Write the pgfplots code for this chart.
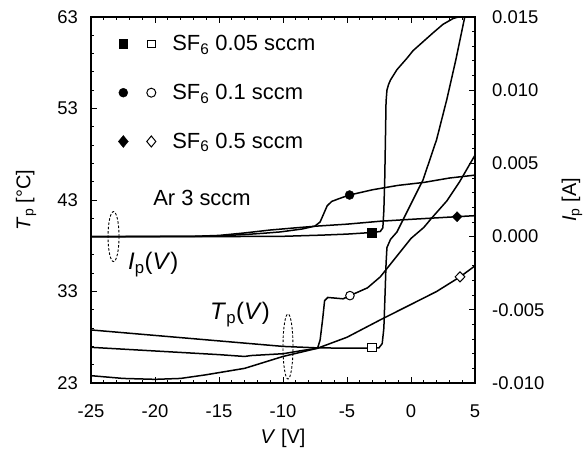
\documentclass[border=0pt]{standalone}
\usepackage{fontspec}
\setmainfont{Liberation Sans}
\usepackage{pgfplots}
\pgfplotsset{compat=1.18}

\pgfplotsset{
  common/.style={
    scale only axis, width=384bp, height=366bp,
    xmin=-25, xmax=5,
    tick align=inside,
    major tick length=6bp, minor tick length=3.5bp,
    every tick/.style={black, line width=0.9bp},
    axis line style={line width=1.1bp},
    /pgf/number format/assume math mode=true,
    tick label style={font=\fontsize{18.5}{22}\selectfont, inner sep=0pt},
  },
  curve/.style={black, line width=1.5bp, mark=none},
}

\begin{document}
\begin{tikzpicture}
% T_p, left axis
\begin{axis}[common,
  ymin=23, ymax=63,
  xtick={-25,-20,...,5}, minor x tick num=4,
  ytick={23,33,...,63}, minor y tick num=4,
  ytick pos=left, xtick pos=both,
  xticklabel style={anchor=north, yshift=-21.5bp},
  yticklabel style={anchor=east, xshift=-13bp},
  every axis x label/.style={at={(axis description cs:0.5,-0.150)}, anchor=center,
    font=\fontsize{20}{24}\selectfont},
  every axis y label/.style={at={(axis description cs:-0.169,0.5)}, anchor=center, rotate=90,
    font=\fontsize{20}{24}\selectfont},
  xlabel={\textit{V} [V]},
  ylabel={\textit{T}\textsubscript{p} [°C]},
]
% SF6 0.05 sccm
\addplot[curve] coordinates {
(-25,28.8) (-20,28.2) (-15,27.6) (-10,27.0) (-7.5,26.85) (-5,26.8) (-3.05,26.8)
(-2.5,26.85) (-2.25,27.3) (-2.12,29.0) (-2.02,33.0) (-1.95,36.0) (-1.88,37.8)
(-1.6,38.7) (-1.1,39.5) (-0.1,42.3) (0.94,45.2) (2.0,49.6) (2.8,54.0) (3.5,58.3) (4.2,63.0)
};
% SF6 0.1 sccm
\addplot[curve] coordinates {
(-25,26.9) (-20,26.5) (-15,26.1) (-13,25.9) (-12.5,26.0) (-10,26.2) (-8.5,26.55)
(-7.3,26.8) (-7.1,27.7) (-6.9,30.0) (-6.75,32.0) (-6.5,32.35) (-5.3,32.2) (-4.77,32.55)
(-3.4,33.4) (-2.4,34.6) (-1.2,36.7) (0,38.8) (1,40.0) (1.6,41.0) (2.8,42.9) (3.8,45.0) (5,47.9)
};
% SF6 0.5 sccm
\addplot[curve] coordinates {
(-25,23.8) (-22.5,23.5) (-20,23.4) (-18,23.5) (-16,23.9) (-13,24.6) (-10,25.9)
(-8.5,26.4) (-7.3,26.8) (-5,28.0) (-2.4,29.9) (0.16,31.7) (2.0,33.0) (3.83,34.6) (5,35.8)
};
\addplot[only marks, mark=square*, mark size=4.2bp, draw=black, fill=white, line width=1bp] coordinates {(-3.05,26.86)};
\addplot[only marks, mark=*, mark size=4.3bp, draw=black, fill=white, line width=1bp] coordinates {(-4.77,32.55)};
\addplot[only marks, mark=diamond*, mark size=5bp, mark options={xscale=1.3}, draw=black, fill=white, line width=1bp] coordinates {(3.83,34.6)};

\draw[dashed, dash pattern=on 2.5bp off 1.8bp, line width=0.9bp]
  (axis cs:-9.61,26.99) ellipse [x radius=5bp, y radius=32.5bp];
\node[anchor=center, font=\fontsize{22}{26}\selectfont, inner sep=0pt] at (axis cs:-16.33,43.27) {Ar 3 sccm};
\node[anchor=base west, font=\fontsize{24}{28}\selectfont, inner sep=0pt] at (axis cs:-22.11,35.35)
  {\textit{I}\textsubscript{p}(\textit{V})};
\node[anchor=base west, font=\fontsize{24}{28}\selectfont, inner sep=0pt] at (axis cs:-15.70,29.89)
  {\textit{T}\textsubscript{p}(\textit{V})};
\end{axis}

% I_p, right axis
\begin{axis}[common,
  ymin=-0.01, ymax=0.015,
  axis y line*=right, axis x line=none,
  ytick={-0.01,-0.005,0,0.005,0.01,0.015}, minor y tick num=4,
  scaled y ticks=false,
  yticklabel style={anchor=west, xshift=17bp,
    /pgf/number format/.cd, fixed, fixed zerofill, precision=3},
  every axis y label/.style={at={(axis description cs:1.2526,0.5)}, anchor=center, rotate=90,
    font=\fontsize{20}{24}\selectfont},
  ylabel={\textit{I}\textsubscript{p} [A]},
  legend style={at={(rel axis cs:0.068,0.950)}, anchor=north west, draw=none, fill=none,
    font=\fontsize{22}{26}\selectfont, row sep=32bp, inner sep=0pt,
    nodes={inner sep=0pt}},
  legend cell align=left,
]
\addlegendimage{legend image code/.code={
  \path[draw=none, fill=none] (-6bp,-6bp) rectangle (49bp,6bp);
  \draw[black, fill=black] plot[only marks, mark=square*, mark size=4.2bp] coordinates {(0bp,0bp)};
  \draw[black, fill=white, line width=1bp] plot[only marks, mark=square*, mark size=3.8bp] coordinates {(28bp,0bp)};
}}
\addlegendentry{SF\textsubscript{6} 0.05 sccm}
\addlegendimage{legend image code/.code={
  \path[draw=none, fill=none] (-6bp,-6bp) rectangle (49bp,6bp);
  \draw[black, fill=black] plot[only marks, mark=*, mark size=4.5bp] coordinates {(0bp,0bp)};
  \draw[black, fill=white, line width=1bp] plot[only marks, mark=*, mark size=4.5bp] coordinates {(28bp,0bp)};
}}
\addlegendentry{SF\textsubscript{6} 0.1 sccm}
\addlegendimage{legend image code/.code={
  \path[draw=none, fill=none] (-6bp,-6bp) rectangle (49bp,6bp);
  \draw[black, fill=black] plot[only marks, mark=diamond*, mark size=6bp, mark options={xscale=1.1}] coordinates {(0bp,0bp)};
  \draw[black, fill=white, line width=1bp] plot[only marks, mark=diamond*, mark size=5.5bp, mark options={xscale=1.1}] coordinates {(28bp,0bp)};
}}
\addlegendentry{SF\textsubscript{6} 0.5 sccm}

% SF6 0.05 sccm
\addplot[curve, forget plot] coordinates {
(-25,0) (-15,0) (-10,0.00002) (-7,0.0001) (-5,0.00017) (-3.05,0.00028) (-2.4,0.00035)
(-2.2,0.0006) (-2.12,0.0018) (-2.05,0.004) (-2.0,0.0065) (-1.95,0.0092) (-1.88,0.0100)
(-1.75,0.0104) (-1.6,0.0107) (-1.1,0.0114) (-0.3,0.0122) (0.16,0.0127) (1.7,0.0139)
(2.5,0.0145) (3.3,0.0149) (3.7,0.0150)
};
% SF6 0.1 sccm
\addplot[curve, forget plot] coordinates {
(-25,0) (-17,0.00001) (-15,0.00005) (-13,0.00014) (-11.5,0.00023) (-10.2,0.00032)
(-8.5,0.00052) (-7.5,0.00072) (-7.1,0.001) (-6.8,0.0016) (-6.55,0.0021) (-6.2,0.0024)
(-5.6,0.0026) (-4.8,0.00284) (-3,0.0032) (-1,0.0035) (1,0.0037) (3,0.0040) (5,0.0042)
};
% SF6 0.5 sccm
\addplot[curve, forget plot] coordinates {
(-25,0) (-17,0.00002) (-15,0.00008) (-13,0.00025) (-11,0.00045) (-9,0.0006)
(-7.3,0.00072) (-5,0.00085) (-2.4,0.00105) (0,0.00118) (3.6,0.00136) (5,0.00143)
};
\addplot[only marks, forget plot, mark=square*, mark size=4.5bp, black] coordinates {(-3.05,0.00028)};
\addplot[only marks, forget plot, mark=*, mark size=4.5bp, black] coordinates {(-4.8,0.00284)};
\addplot[only marks, forget plot, mark=diamond*, mark size=5bp, mark options={xscale=1.3}, black] coordinates {(3.6,0.00136)};

\draw[dashed, dash pattern=on 2.5bp off 1.8bp, line width=0.9bp]
  (axis cs:-23.24,0) ellipse [x radius=5.5bp, y radius=25bp];
\end{axis}
\pgfresetboundingbox
\useasboundingbox (-91bp,-70bp) rectangle (493bp,383bp);
\end{tikzpicture}
\end{document}
